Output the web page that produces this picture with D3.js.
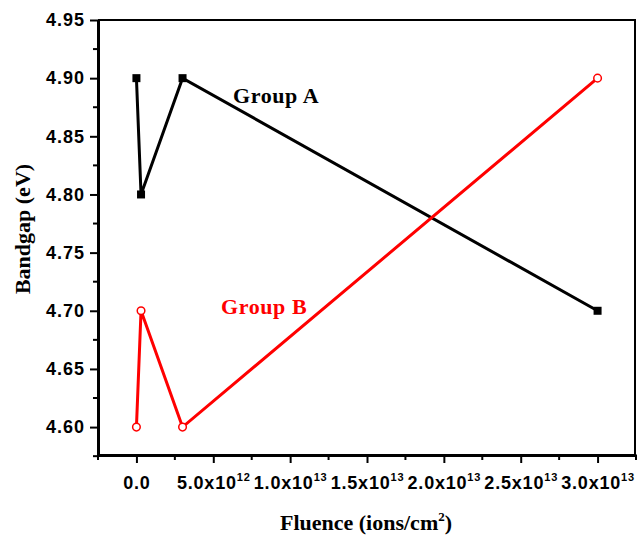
<!DOCTYPE html>
<html>
<head>
<meta charset="utf-8">
<script src="https://cdn.jsdelivr.net/npm/d3@7"></script>
<style>
  body { margin: 0; background: #fff; }
  .tick text { font-family: "Liberation Sans", Arial, sans-serif; font-weight: bold; }
</style>
</head>
<body>
<svg width="637" height="536"></svg>
<script>
// data
var fluenceA = [0, 3e11, 3e12, 3e13];
var bandgapA = [4.90, 4.80, 4.90, 4.70];
var fluenceB = [0, 3e11, 3e12, 3e13];
var bandgapB = [4.60, 4.70, 4.60, 4.90];

var xTicks = [0, 5e12, 1e13, 1.5e13, 2e13, 2.5e13, 3e13];
var xTickBase = ["0.0", "5.0x10", "1.0x10", "1.5x10", "2.0x10", "2.5x10", "3.0x10"];
var xTickExp = ["", "12", "13", "13", "13", "13", "13"];
var xMinor = [-2.5e12, 2.5e12, 7.5e12, 1.25e13, 1.75e13, 2.25e13, 2.75e13, 3.25e13];
var yTicks = [4.60, 4.65, 4.70, 4.75, 4.80, 4.85, 4.90, 4.95];
var yMinor = [4.575, 4.625, 4.675, 4.725, 4.775, 4.825, 4.875, 4.925];

var svg = d3.select("svg");

var x = d3.scaleLinear().domain([-2.5e12, 3.25e13]).range([98, 636]);
var y = d3.scaleLinear().domain([4.576, 4.95]).range([455, 20]);

// frame (top + right)
svg.append("path")
    .attr("d", "M" + x.range()[0] + "," + y.range()[1] + "H" + (x.range()[1] - 1) + "V" + y.range()[0])
    .style("fill", "none")
    .style("stroke", "#000")
    .style("stroke-width", 2);

// x axis
var gx = svg.append("g")
    .attr("transform", "translate(0," + y.range()[0] + ")");
gx.call(d3.axisBottom(x).tickValues(xTicks).tickSize(8).tickSizeOuter(0).tickFormat(""));
gx.append("g").selectAll("line")
    .data(xMinor)
    .enter()
    .append("line")
    .attr("x1", function (d) { return x(d); })
    .attr("x2", function (d) { return x(d); })
    .attr("y1", 0)
    .attr("y2", 5)
    .style("stroke", "#000")
    .style("stroke-width", 2);
gx.select(".domain").style("stroke-width", 3);
gx.selectAll(".tick line").style("stroke-width", 2);
gx.selectAll(".tick text").remove();
gx.selectAll(".tick").append("text")
    .attr("y", 34)
    .attr("fill", "#000")
    .style("font-size", "18px")
    .style("letter-spacing", "0.8px")
    .style("text-anchor", "middle")
    .each(function (d, i) {
        var t = d3.select(this);
        t.append("tspan").text(xTickBase[i]);
        if (xTickExp[i]) {
            t.append("tspan")
                .attr("dy", -8)
                .style("font-size", "11px")
                .text(xTickExp[i]);
        }
    });

// y axis
var gy = svg.append("g")
    .attr("transform", "translate(" + x.range()[0] + ",0)");
gy.call(d3.axisLeft(y).tickValues(yTicks).tickSize(8).tickSizeOuter(0).tickPadding(5).tickFormat(d3.format(".2f")));
gy.append("g").selectAll("line")
    .data(yMinor)
    .enter()
    .append("line")
    .attr("y1", function (d) { return y(d); })
    .attr("y2", function (d) { return y(d); })
    .attr("x1", 0)
    .attr("x2", -5)
    .style("stroke", "#000")
    .style("stroke-width", 2);
gy.select(".domain").style("stroke-width", 3);
gy.selectAll(".tick line").style("stroke-width", 2);
gy.selectAll(".tick text")
    .style("font-size", "18px")
    .style("letter-spacing", "1px");

// lines
var lineA = d3.line()
    .x(function (d, i) { return x(fluenceA[i]); })
    .y(function (d) { return y(d); });
var lineB = d3.line()
    .x(function (d, i) { return x(fluenceB[i]); })
    .y(function (d) { return y(d); });

svg.append("path")
    .datum(bandgapA)
    .attr("d", lineA)
    .style("fill", "none")
    .style("stroke", "#000")
    .style("stroke-width", 3);

svg.append("path")
    .datum(bandgapB)
    .attr("d", lineB)
    .style("fill", "none")
    .style("stroke", "#ff0000")
    .style("stroke-width", 3);

// markers
svg.append("g").selectAll("rect")
    .data(bandgapA)
    .enter()
    .append("rect")
    .attr("x", function (d, i) { return x(fluenceA[i]) - 4; })
    .attr("y", function (d) { return y(d) - 4; })
    .attr("width", 8)
    .attr("height", 8)
    .style("fill", "#000");

svg.append("g").selectAll("circle")
    .data(bandgapB)
    .enter()
    .append("circle")
    .attr("cx", function (d, i) { return x(fluenceB[i]); })
    .attr("cy", function (d) { return y(d); })
    .attr("r", 3.8)
    .style("fill", "#fff")
    .style("stroke", "#ff0000")
    .style("stroke-width", 1.5);

// series labels
svg.append("text")
    .attr("x", 233)
    .attr("y", 103)
    .style("font-family", "'Liberation Serif', 'Times New Roman', serif")
    .style("font-weight", "bold")
    .style("font-size", "22px")
    .style("letter-spacing", "0.6px")
    .text("Group A");

svg.append("text")
    .attr("x", 221)
    .attr("y", 314)
    .style("font-family", "'Liberation Serif', 'Times New Roman', serif")
    .style("font-weight", "bold")
    .style("font-size", "22px")
    .style("letter-spacing", "0.6px")
    .style("fill", "#ff0000")
    .text("Group B");

// axis titles
var xt = svg.append("text")
    .attr("x", 366)
    .attr("y", 530)
    .style("font-family", "'Liberation Serif', 'Times New Roman', serif")
    .style("font-weight", "bold")
    .style("font-size", "22px")
    .style("text-anchor", "middle");
xt.append("tspan").text("Fluence (ions/cm");
xt.append("tspan").attr("dy", -9).style("font-size", "13px").text("2");
xt.append("tspan").attr("dy", 9).text(")");

svg.append("text")
    .attr("transform", "translate(30,229) rotate(-90)")
    .style("font-family", "'Liberation Serif', 'Times New Roman', serif")
    .style("font-weight", "bold")
    .style("font-size", "22px")
    .style("text-anchor", "middle")
    .text("Bandgap (eV)");
</script>
</body>
</html>
